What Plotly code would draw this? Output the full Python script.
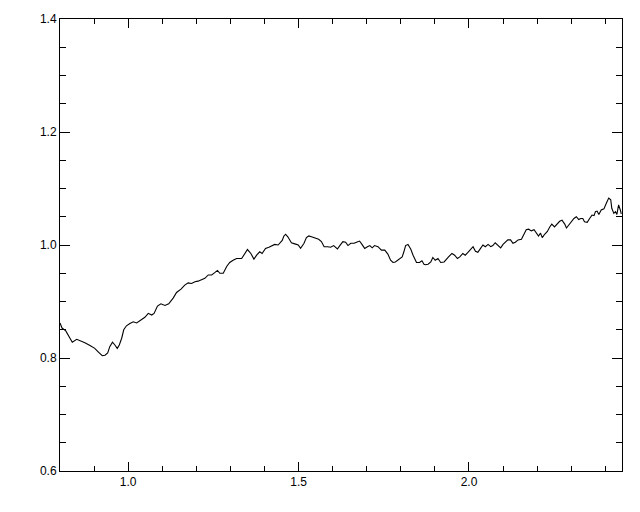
import plotly.graph_objects as go

# Spectrum-like curve values
x_vals = [0.800, 0.806, 0.817, 0.829, 0.836, 0.849, 0.858, 0.873, 0.888, 0.902,
          0.912, 0.924, 0.932, 0.940, 0.946, 0.954, 0.961, 0.968, 0.974, 0.981,
          0.987, 0.995, 1.005, 1.015, 1.025, 1.037, 1.049,
          1.059, 1.069, 1.076, 1.086, 1.096, 1.108, 1.119, 1.132, 1.142, 1.155,
          1.166, 1.176, 1.186, 1.196, 1.205, 1.215, 1.225, 1.235, 1.245, 1.254,
          1.262, 1.269, 1.279, 1.289, 1.298, 1.308, 1.318, 1.333, 1.342,
          1.350, 1.360, 1.369, 1.377, 1.386, 1.393, 1.403, 1.413, 1.422, 1.430,
          1.440, 1.445, 1.452, 1.457, 1.462, 1.469, 1.479, 1.489, 1.499, 1.506,
          1.516, 1.523, 1.530, 1.540, 1.550, 1.559, 1.567, 1.575, 1.585, 1.594,
          1.603, 1.608, 1.614, 1.621, 1.630, 1.638, 1.645, 1.653, 1.663, 1.670,
          1.679, 1.686, 1.694, 1.702, 1.709, 1.716, 1.723, 1.733, 1.743, 1.753,
          1.762, 1.770, 1.777, 1.784, 1.794, 1.804, 1.809, 1.814, 1.821, 1.829,
          1.836, 1.846, 1.855, 1.862, 1.868, 1.872, 1.880, 1.888, 1.894, 1.901,
          1.909, 1.917, 1.927, 1.934, 1.940, 1.950, 1.958, 1.966, 1.973, 1.982,
          1.989, 1.997, 2.007, 2.012, 2.019, 2.026, 2.034, 2.041, 2.048, 2.056,
          2.064, 2.070, 2.077, 2.085, 2.093, 2.100, 2.107, 2.114, 2.122, 2.129,
          2.136, 2.144, 2.154, 2.161, 2.168, 2.175, 2.183, 2.191, 2.198, 2.204,
          2.210, 2.215, 2.222, 2.230, 2.237, 2.243, 2.251, 2.259, 2.266, 2.273,
          2.281, 2.286, 2.292, 2.300, 2.308, 2.315, 2.322, 2.328, 2.334, 2.339,
          2.347, 2.354, 2.361, 2.367, 2.371, 2.376, 2.381, 2.388, 2.396, 2.403,
          2.410, 2.416, 2.419, 2.425, 2.430, 2.434, 2.439, 2.444, 2.447]
y_vals = [0.862, 0.853, 0.848, 0.835, 0.828, 0.833, 0.831, 0.827, 0.822, 0.817,
          0.811, 0.804, 0.805, 0.809, 0.820, 0.828, 0.823, 0.817, 0.823, 0.835,
          0.850, 0.857, 0.861, 0.864, 0.862, 0.867, 0.872,
          0.879, 0.876, 0.879, 0.892, 0.896, 0.893, 0.896, 0.906, 0.916, 0.922,
          0.929, 0.933, 0.932, 0.935, 0.936, 0.939, 0.941, 0.947, 0.947, 0.951,
          0.955, 0.950, 0.950, 0.962, 0.969, 0.973, 0.976, 0.976, 0.985,
          0.992, 0.985, 0.975, 0.982, 0.988, 0.985, 0.994, 0.996, 0.998, 1.001,
          1.000, 1.004, 1.008, 1.016, 1.019, 1.014, 1.004, 1.002, 1.000, 0.994,
          1.003, 1.013, 1.016, 1.014, 1.012, 1.010, 1.006, 0.997, 0.997, 0.996,
          0.999, 0.996, 0.993, 0.999, 1.006, 1.005, 0.999, 1.003, 1.003, 1.005,
          1.007, 1.001, 0.994, 0.997, 0.999, 0.995, 0.999, 0.997, 0.991, 0.991,
          0.984, 0.973, 0.969, 0.970, 0.975, 0.979, 0.988, 0.999, 1.001, 0.993,
          0.982, 0.969, 0.969, 0.972, 0.966, 0.965, 0.966, 0.970, 0.978, 0.973,
          0.976, 0.969, 0.970, 0.976, 0.979, 0.985, 0.982, 0.976, 0.979, 0.985,
          0.982, 0.987, 0.994, 0.997, 0.989, 0.987, 0.994, 1.000, 0.997, 1.001,
          0.997, 0.999, 1.004, 1.000, 0.995, 1.001, 1.005, 1.009, 1.009, 1.003,
          1.005, 1.009, 1.010, 1.018, 1.027, 1.028, 1.025, 1.027, 1.021, 1.016,
          1.021, 1.013, 1.019, 1.024, 1.032, 1.037, 1.032, 1.037, 1.042, 1.044,
          1.037, 1.030, 1.035, 1.041, 1.047, 1.050, 1.045, 1.047, 1.047, 1.041,
          1.040, 1.047, 1.053, 1.052, 1.059, 1.060, 1.054, 1.062, 1.064, 1.074,
          1.083, 1.080, 1.065, 1.056, 1.059, 1.054, 1.071, 1.062, 1.055]

x_range = [0.8, 2.449]
y_range = [0.6, 1.4]

fig = go.Figure(go.Scatter(x=x_vals, y=y_vals, mode="lines",
                           line=dict(color="black", width=1.1),
                           hoverinfo="skip", showlegend=False))

axis_common = dict(showgrid=False, zeroline=False, showline=True,
                   linecolor="black", linewidth=1, mirror="allticks",
                   ticks="inside", tickcolor="black", tickwidth=1,
                   tickfont=dict(family="Liberation Sans, Arial, sans-serif",
                                 size=12, color="black"))

fig.update_xaxes(range=x_range, tick0=0, dtick=0.5, ticklen=9,
                 tickformat=".1f",
                 minor=dict(dtick=0.1, ticklen=5, ticks="inside",
                            tickcolor="black", tickwidth=1),
                 **axis_common)
fig.update_yaxes(range=y_range, tick0=0, dtick=0.2, ticklen=10,
                 tickformat=".1f",
                 minor=dict(dtick=0.05, ticklen=6, ticks="inside",
                            tickcolor="black", tickwidth=1),
                 **axis_common)

# page body has an 8px default margin, so the figure is sized/offset for it
fig.update_layout(width=632, height=504, plot_bgcolor="white",
                  paper_bgcolor="white",
                  margin=dict(l=52, r=18, t=11, b=41, autoexpand=False))

fig.write_html("out.html")
